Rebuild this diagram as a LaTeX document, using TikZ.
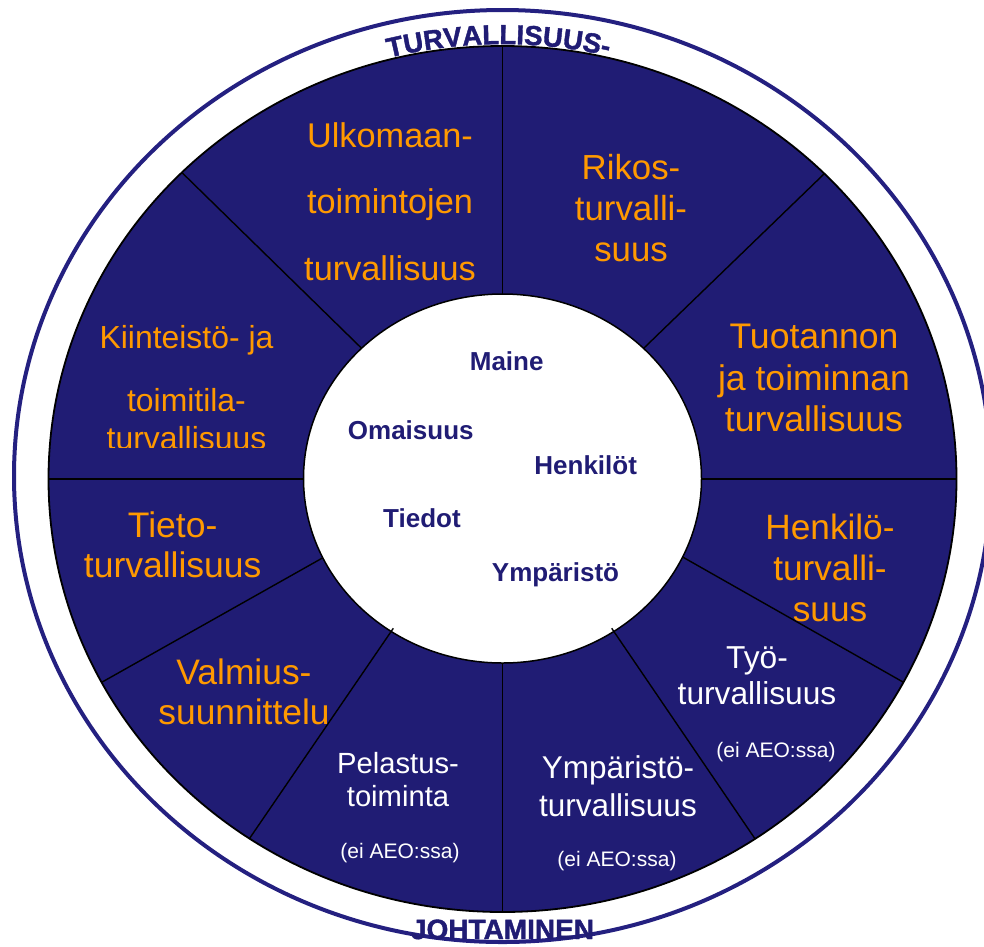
\documentclass[tikz,border=0pt]{standalone}
\usepackage{fontspec}
\setmainfont{Liberation Sans}
\newfontfamily\ringfont[FakeBold=1.5]{Liberation Sans}
\usetikzlibrary{decorations.text}

\definecolor{wheelnavy}{RGB}{32,28,116}
\definecolor{ringnavy}{RGB}{36,32,128}
\definecolor{sectororange}{RGB}{255,153,0}

\newcommand{\fs}[2]{\fontsize{#1}{#2}\selectfont}

\tikzset{
  sector/.style={text=sectororange, align=center, inner sep=0pt, anchor=base},
  whitesector/.style={text=white, align=center, inner sep=0pt, anchor=base},
  note/.style={text=white, inner sep=0pt, anchor=base, font=\fs{21}{25}},
  asset/.style={text=wheelnavy, inner sep=0pt, anchor=base, font=\bfseries\fs{26}{30}},
  divider/.style={black, line width=1.4pt},
}

\begin{document}
\begin{tikzpicture}[x=1pt, y=-1pt]
  \useasboundingbox (0,0) rectangle (984,946);

  \coordinate (hub) at (502.5,479);

  % outer ring
  \draw[ringnavy, line width=4pt] (502.5,476) ellipse [x radius=488.5pt, y radius=466pt];

  % wheel
  \filldraw[fill=wheelnavy, draw=black, line width=1.8pt]
    (hub) ellipse [x radius=454pt, y radius=433pt];

  % sector dividers
  \begin{scope}
    \clip (hub) ellipse [x radius=454pt, y radius=433pt];
    \foreach \ax/\ay/\bx/\by in {502.5/400/502.5/30, 580/409.8/845/153.7,
      600/479/970/479, 640/532.8/980/725.7, 502.5/560/502.5/930,
      405/479/35/479, 365/534/25/725.5, 425/410.3/160/151.1}
      \draw[divider] (\ax,\ay) -- (\bx,\by);
  \end{scope}

  % hub
  \filldraw[fill=white, draw=black, line width=1.5pt]
    (502.5,478.5) ellipse [x radius=199pt, y radius=184.5pt];

  % the two dividers that start inside the hub
  \begin{scope}
    \clip (hub) ellipse [x radius=454pt, y radius=433pt];
    \draw[divider] (611.7,628.3) -- (780,875.5);
    \draw[divider] (393.3,628.3) -- (225,874.3);
  \end{scope}

  % ring titles
  \path[decorate, decoration={text along path, text align=center, text color=wheelnavy,
      text={|\ringfont\bfseries\fontsize{27.5}{30}\selectfont|TURVALLISUUS-}}]
    (270.5,104.3) arc [start angle=120.5, end angle=60.5, x radius=457pt, y radius=435pt];
  \node[inner sep=0pt, anchor=base, text=wheelnavy, font=\ringfont\bfseries\fs{28}{30}]
    (johtaminen) at (502.5,939) {JOHTAMINEN};

  % orange sectors
  \node[sector, font=\fs{34.3}{66.2}] (ulkomaan) at (390,280) {Ulkomaan-\\toimintojen\\turvallisuus};
  \node[sector, font=\fs{34.8}{40.9}] (rikos) at (631,261.7) {Rikos-\\turvalli-\\suus};
  \node[sector, font=\fs{35.6}{41.4}] (tuotanto) at (814,431.7) {Tuotannon\\ja toiminnan\\turvallisuus};
  \node[sector, font=\fs{35.2}{41.2}] (henkilo) at (830,621.7) {Henkilö-\\turvalli-\\suus};
  \node[sector, font=\fs{35.5}{39.6}] (tieto) at (172.7,577.3) {Tieto-\\turvallisuus};
  \node[sector, font=\fs{35.4}{40}] (valmius) at (244,724.3) {Valmius-\\suunnittelu};
  \begin{scope}
    \clip (0,0) rectangle (984,447.5);
    \node[sector, font=\fs{31.9}{38}] (kiinteisto) at (186.5,449.7)
      {Kiinteistö- ja\\[25.4pt]toimitila-\\turvallisuus};
  \end{scope}

  % white sectors
  \node[whitesector, font=\fs{29.2}{33.4}] (pelastus) at (398,806.7) {Pelastus-\\toiminta};
  \node[note] (pelastus-note) at (400,858.3) {(ei AEO:ssa)};
  \node[whitesector, font=\fs{31.5}{37.7}] (ymparisto) at (618,816) {Ympäristö-\\turvallisuus};
  \node[note] (ymparisto-note) at (617,866.7) {(ei AEO:ssa)};
  \node[whitesector, font=\fs{31.7}{36}] (tyo) at (757,704.3) {Työ-\\turvallisuus};
  \node[note] (tyo-note) at (776,757.7) {(ei AEO:ssa)};

  % assets in the hub
  \node[asset] (maine) at (506.7,370.7) {Maine};
  \node[asset] (omaisuus) at (410.8,439) {Omaisuus};
  \node[asset] (henkilot) at (585.7,474) {Henkilöt};
  \node[asset] (tiedot) at (422,527.3) {Tiedot};
  \node[asset] (ymparisto-asset) at (555.5,581.7) {Ympäristö};

\end{tikzpicture}
\end{document}
